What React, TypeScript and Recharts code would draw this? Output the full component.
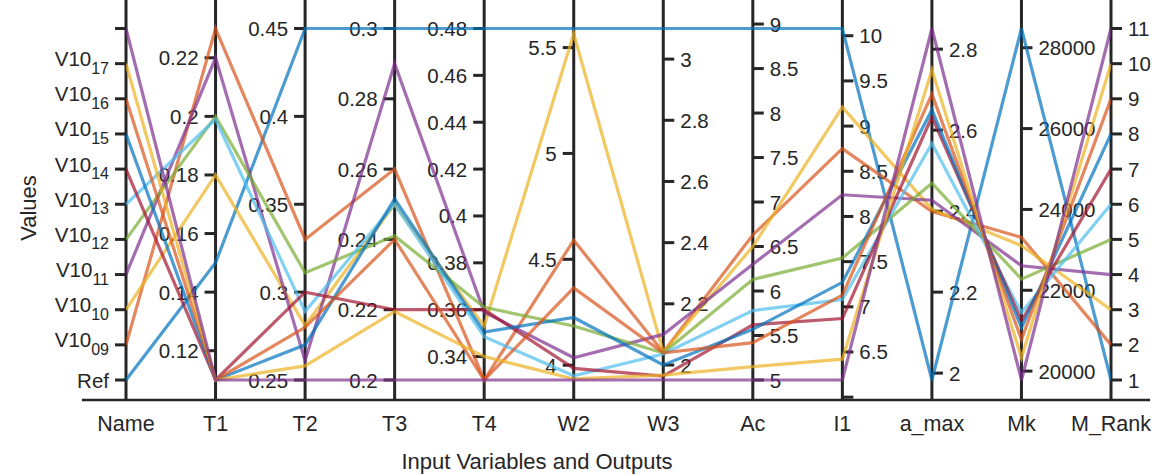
import React from "react";
import { LineChart, Line, XAxis, YAxis, ReferenceLine } from "recharts";

// axes of the parallel plot, left to right
const axisNames = ["Name", "T1", "T2", "T3", "T4", "W2", "W3", "Ac", "I1", "a_max", "Mk", "M_Rank"];
const seriesNames = ["Ref", "V10_09", "V10_10", "V10_11", "V10_12", "V10_13", "V10_14", "V10_15", "V10_16", "V10_17", "V10_18"];

// values per axis, one entry per series (same order as seriesNames)
const nameVals = [0, 1, 2, 3, 4, 5, 6, 7, 8, 9, 10];
const t1Vals = [0.15, 0.23, 0.18, 0.22, 0.2, 0.199, 0.11, 0.11, 0.11, 0.11, 0.11];
const t2Vals = [0.45, 0.33, 0.281, 0.261, 0.311, 0.289, 0.3, 0.27, 0.28, 0.258, 0.25];
const t3Vals = [0.3, 0.26, 0.25, 0.29, 0.241, 0.25, 0.22, 0.2515, 0.24, 0.2195, 0.2];
const t4Vals = [0.48, 0.33, 0.353, 0.359, 0.361, 0.3485, 0.36, 0.3505, 0.33, 0.34, 0.33];
const w2Vals = [5.59, 4.59, 5.565, 4.035, 4.185, 3.95, 3.985, 4.225, 4.365, 3.935, 3.93];
const w3Vals = [3.1, 2.042, 2.042, 2.1, 2.039, 2.036, 1.964, 2.0, 2.04, 1.967, 1.951];
const acVals = [8.95, 6.63, 6.5, 6.3, 6.13, 5.78, 5.62, 5.57, 5.42, 5.15, 5.0];
const i1Vals = [10.08, 8.75, 9.21, 8.24, 7.54, 7.08, 6.87, 7.27, 7.13, 6.42, 6.19];
const amaxVals = [1.983, 2.399, 2.405, 2.427, 2.469, 2.567, 2.633, 2.65, 2.689, 2.749, 2.851];
const mkVals = [28476, 23309, 23103, 22606, 22276, 21447, 21241, 21075, 20787, 20330, 19780];
const mRankVals = [1, 2, 3, 4, 5, 6, 7, 8, 9, 10, 11];

// tick values per axis
const nameTicks = [0, 1, 2, 3, 4, 5, 6, 7, 8, 9, 10];
const nameTickLabels = ["Ref", "V10_09", "V10_10", "V10_11", "V10_12", "V10_13", "V10_14", "V10_15", "V10_16", "V10_17", ""];
const t1Ticks = [0.12, 0.14, 0.16, 0.18, 0.2, 0.22];
const t2Ticks = [0.25, 0.3, 0.35, 0.4, 0.45];
const t3Ticks = [0.2, 0.22, 0.24, 0.26, 0.28, 0.3];
const t4Ticks = [0.34, 0.36, 0.38, 0.4, 0.42, 0.44, 0.46, 0.48];
const w2Ticks = [4, 4.5, 5, 5.5];
const w3Ticks = [2, 2.2, 2.4, 2.6, 2.8, 3];
const acTicks = [5, 5.5, 6, 6.5, 7, 7.5, 8, 8.5, 9];
const i1Ticks = [6, 6.5, 7, 7.5, 8, 8.5, 9, 9.5, 10];
const amaxTicks = [2, 2.2, 2.4, 2.6, 2.8];
const mkTicks = [20000, 22000, 24000, 26000, 28000];
const mRankTicks = [1, 2, 3, 4, 5, 6, 7, 8, 9, 10, 11];

const colors = ["#0072BD", "#D95319", "#EDB120", "#7E2F8E", "#77AC30", "#4DBEEE", "#A2142F"];
const rightSide = ["W3", "Ac", "I1", "a_max", "Mk", "M_Rank"];

const axes = [
  { values: nameVals, ticks: nameTicks, labels: nameTickLabels },
  { values: t1Vals, ticks: t1Ticks },
  { values: t2Vals, ticks: t2Ticks },
  { values: t3Vals, ticks: t3Ticks },
  { values: t4Vals, ticks: t4Ticks },
  { values: w2Vals, ticks: w2Ticks },
  { values: w3Vals, ticks: w3Ticks },
  { values: acVals, ticks: acTicks },
  { values: i1Vals, ticks: i1Ticks },
  { values: amaxVals, ticks: amaxTicks },
  { values: mkVals, ticks: mkTicks },
  { values: mRankVals, ticks: mRankTicks },
].map((a, i) => ({
  ...a,
  name: axisNames[i],
  min: Math.min(...a.values),
  max: Math.max(...a.values),
  right: rightSide.includes(axisNames[i]),
}));

const norm = (a, v) => (v - a.min) / (a.max - a.min);

const rows = axes.map((a, i) => {
  const row = { idx: i };
  seriesNames.forEach((s, k) => {
    row[s] = norm(a, a.values[k]);
  });
  return row;
});

// y domain leaves room above/below the data like the original axes
const Y_LO = -0.0569;
const Y_HI = 1.0811;
const FONT = "'Liberation Sans', Arial, Helvetica, sans-serif";
const INK = "#262626";

const Txt = ({ x, y, anchor = "middle", size = 20.5, rotate = 0, children }) => (
  <text
    transform={`translate(${x},${y})${rotate ? ` rotate(${rotate})` : ""}`}
    textAnchor={anchor}
    dominantBaseline="central"
    fontSize={size}
    fontFamily={FONT}
    fill={INK}
  >
    {children}
  </text>
);

const AxisShape = ({ p, axis }) => {
  const x = p.x1;
  const top = Math.min(p.y1, p.y2);
  const bot = Math.max(p.y1, p.y2);
  const toY = (v) => bot - ((norm(axis, v) - Y_LO) / (Y_HI - Y_LO)) * (bot - top);
  const dir = axis.right ? 1 : -1;
  const tick = 11;
  return (
    <g>
      <line x1={x} x2={x} y1={top} y2={bot} stroke={INK} strokeWidth={3} />
      {axis.ticks.map((t, j) => {
        const y = toY(t);
        // labels that would cross the bottom axis line are left out
        const fits = y > top + 8 && y < bot - 10;
        const lab = axis.labels ? axis.labels[j] : fits ? String(t) : "";
        const lx = x + dir * (tick + 6);
        const anchor = axis.right ? "start" : "end";
        let txt = null;
        if (lab && lab.includes("_")) {
          const [main, sub] = lab.split("_");
          txt = (
            <Txt x={lx} y={y - 5} anchor={anchor}>
              {main}
              <tspan fontSize={16} dy={9}>
                {sub}
              </tspan>
            </Txt>
          );
        } else if (lab) {
          txt = (
            <Txt x={lx} y={y} anchor={anchor}>
              {lab}
            </Txt>
          );
        }
        return (
          <g key={j}>
            <line x1={x} x2={x + dir * tick} y1={y} y2={y} stroke={INK} strokeWidth={3} />
            {txt}
          </g>
        );
      })}
    </g>
  );
};

const XTick = (p) => (
  <Txt x={p.x} y={p.y + 16} size={21.5}>
    {axisNames[p.payload.value]}
  </Txt>
);

export default function App() {
  return (
    <div style={{ position: "absolute", left: 0, top: 0 }}>
      <LineChart width={1158} height={475} data={rows} margin={{ top: 0, right: 8, bottom: 0, left: 0 }}>
        <XAxis
          dataKey="idx"
          type="number"
          domain={[0, 11]}
          allowDataOverflow
          ticks={axisNames.map((_, i) => i)}
          interval={0}
          padding={{ left: 44, right: 39 }}
          height={75}
          axisLine={{ stroke: INK, strokeWidth: 2.5 }}
          tickLine={false}
          tick={<XTick />}
          label={{
            content: ({ viewBox }) => (
              <Txt x={viewBox.x + 455} y={viewBox.y + 61} size={22}>
                Input Variables and Outputs
              </Txt>
            ),
          }}
        />
        <YAxis
          type="number"
          domain={[Y_LO, Y_HI]}
          allowDataOverflow
          width={82}
          tick={false}
          axisLine={false}
          tickLine={false}
          label={{
            content: ({ viewBox }) => (
              <Txt x={viewBox.x + 28} y={viewBox.y + 208} size={22} rotate={-90}>
                Values
              </Txt>
            ),
          }}
        />
        {axes.map((a, i) => (
          <ReferenceLine key={a.name} x={i} ifOverflow="visible" shape={(p) => <AxisShape p={p} axis={a} />} />
        ))}
        {seriesNames.map((s, k) => (
          <Line
            key={s}
            dataKey={s}
            type="linear"
            dot={false}
            activeDot={false}
            stroke={colors[k % colors.length]}
            strokeOpacity={0.7}
            strokeWidth={3.2}
            isAnimationActive={false}
          />
        ))}
      </LineChart>
    </div>
  );
}
